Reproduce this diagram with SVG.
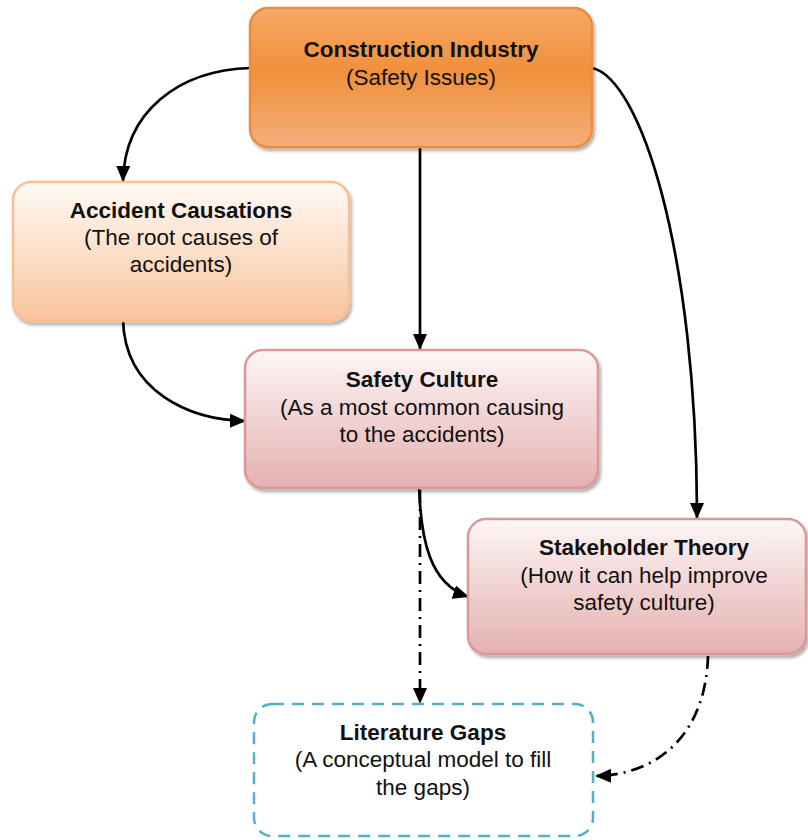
<svg xmlns="http://www.w3.org/2000/svg" width="808" height="840" viewBox="0 0 808 840">
  <style>
    .title { font-family: "Liberation Sans", Arial, sans-serif; font-size: 22.5px; font-weight: bold; fill: #111; text-anchor: middle; }
    .sub { font-family: "Liberation Sans", Arial, sans-serif; font-size: 22.5px; fill: #111; text-anchor: middle; }
    .edge { fill: none; stroke: #000; stroke-width: 2.7; }
    .dashdot { stroke-dasharray: 13 6 2 6; }
    .box { stroke-width: 2.5; }
  </style>
  <defs>
    <linearGradient id="gOrange" x1="0" y1="0" x2="0" y2="1">
      <stop offset="0" stop-color="#f7a966"/>
      <stop offset="0.45" stop-color="#f0903c"/>
      <stop offset="1" stop-color="#f5ae7a"/>
    </linearGradient>
    <linearGradient id="gPeach" x1="0" y1="0" x2="0" y2="1">
      <stop offset="0" stop-color="#fffaf6"/>
      <stop offset="1" stop-color="#f9c49c"/>
    </linearGradient>
    <linearGradient id="gRose" x1="0" y1="0" x2="0" y2="1">
      <stop offset="0" stop-color="#fdf6f6"/>
      <stop offset="1" stop-color="#e5b0b0"/>
    </linearGradient>
    <filter id="shadow" x="-10%" y="-10%" width="125%" height="130%">
      <feDropShadow dx="2" dy="3" stdDeviation="1.5" flood-color="#000" flood-opacity="0.3"/>
    </filter>
    <marker id="arrow" viewBox="0 0 16 14" refX="16" refY="7" markerWidth="16" markerHeight="14" markerUnits="userSpaceOnUse" orient="auto">
      <path d="M0,0 L16,7 L0,14 Z" fill="#000"/>
    </marker>
  </defs>

  <!-- connectors -->
  <g id="connectors">
    <path class="edge" d="M251,68 C178,70 124,112 123,182" marker-end="url(#arrow)"/>
    <path class="edge" d="M420,148 L420,350" marker-end="url(#arrow)"/>
    <path class="edge" d="M592,68 C640,78 697,250 697,519" marker-end="url(#arrow)"/>
    <path class="edge" d="M123,320 C125,392 190,420 246,421" marker-end="url(#arrow)"/>
    <path class="edge" d="M419,465 C418,545 432,585 469,597" marker-end="url(#arrow)"/>
    <path class="edge dashdot" d="M420,490 L420,704" marker-end="url(#arrow)"/>
    <path class="edge dashdot" d="M708,656 C706,730 662,775 595,776" marker-end="url(#arrow)"/>
  </g>

  <!-- nodes -->
  <g id="construction-industry">
    <rect class="box" x="250" y="8" width="342" height="139" rx="18" fill="url(#gOrange)" stroke="#ea8c3e" filter="url(#shadow)"/>
    <text class="title" x="421" y="57">Construction Industry</text>
    <text class="sub" x="421" y="85">(Safety Issues)</text>
  </g>

  <g id="accident-causations">
    <rect class="box" x="13" y="182" width="336" height="139" rx="18" fill="url(#gPeach)" stroke="#f8bf94" filter="url(#shadow)"/>
    <text class="title" x="181" y="218">Accident Causations</text>
    <text class="sub" x="181" y="245">(The root causes of</text>
    <text class="sub" x="181" y="272">accidents)</text>
  </g>

  <g id="safety-culture">
    <rect class="box" x="245" y="350" width="353" height="138" rx="18" fill="url(#gRose)" stroke="#da9897" filter="url(#shadow)"/>
    <text class="title" x="422" y="387">Safety Culture</text>
    <text class="sub" x="422" y="415">(As a most common causing</text>
    <text class="sub" x="422" y="442">to the accidents)</text>
  </g>

  <g id="stakeholder-theory">
    <rect class="box" x="468" y="519" width="338" height="135" rx="18" fill="url(#gRose)" stroke="#da9897" filter="url(#shadow)"/>
    <text class="title" x="644" y="555">Stakeholder Theory</text>
    <text class="sub" x="644" y="583">(How it can help improve</text>
    <text class="sub" x="644" y="610">safety culture)</text>
  </g>

  <g id="literature-gaps">
    <rect x="254" y="704" width="339" height="132" rx="18" fill="#fff" stroke="#4fb0c8" stroke-width="2.5" stroke-dasharray="12 8"/>
    <text class="title" x="423" y="740">Literature Gaps</text>
    <text class="sub" x="423" y="767">(A conceptual model to fill</text>
    <text class="sub" x="423" y="795">the gaps)</text>
  </g>
</svg>
